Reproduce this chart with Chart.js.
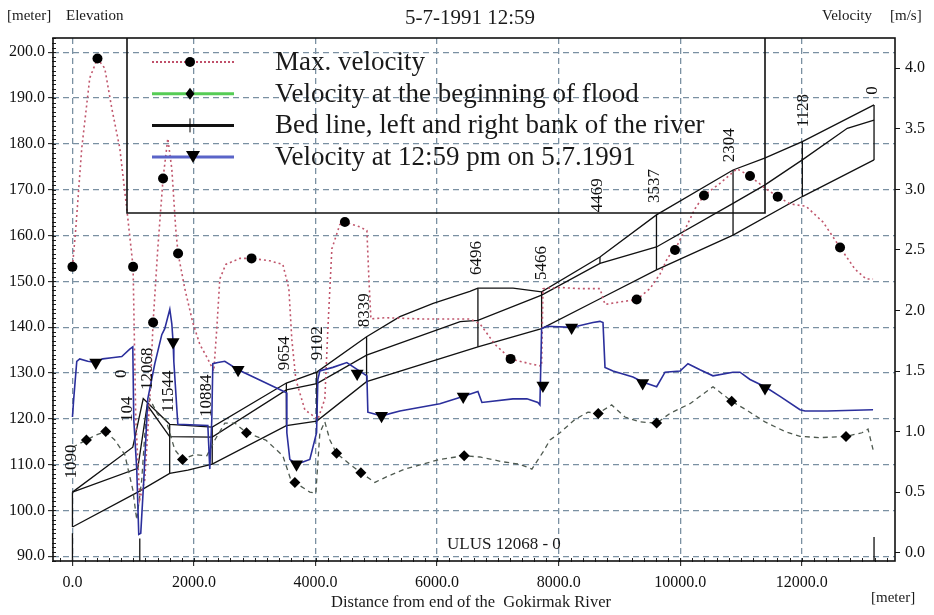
<!DOCTYPE html>
<html>
<head>
<meta charset="utf-8">
<script src="https://cdn.jsdelivr.net/npm/chart.js@4.4.1/dist/chart.umd.min.js"></script>
<style>
  html, body { margin: 0; padding: 0; background: #fff; }
</style>
</head>
<body>
<canvas id="chart" width="934" height="615"></canvas>
<script>
// axis ticks
const xTicks = [0, 2000, 4000, 6000, 8000, 10000, 12000];
const elevTicks = [90, 100, 110, 120, 130, 140, 150, 160, 170, 180, 190, 200];
const velTicks = [0, 0.5, 1.0, 1.5, 2.0, 2.5, 3.0, 3.5, 4.0];

// bed line and the two banks [m, elevation]
const bankTopDist = [0, 993, 1165, 1600, 2300, 3520, 4020, 4840, 5388, 5936, 6540, 6672, 7250, 7720, 8680, 9610, 10870, 11390, 12010, 13190];
const bankTopElev = [104.0, 113.8, 124.4, 118.8, 118.2, 127.8, 130.2, 137.9, 142.3, 145.2, 147.8, 148.5, 148.5, 147.7, 155.3, 164.5, 174.3, 176.9, 180.5, 188.5];
const bankMidDist = [0, 1075, 1230, 1600, 2300, 3520, 4020, 4840, 6380, 6672, 7720, 8680, 9610, 10870, 11390, 12010, 12750, 13190];
const bankMidElev = [104.0, 109.2, 123.0, 116.1, 116.0, 126.3, 127.7, 133.9, 141.2, 141.5, 147.0, 153.9, 157.5, 167.0, 171.0, 176.5, 183.4, 185.2];
const bedDist = [0, 1075, 1600, 1900, 2300, 3520, 4020, 4840, 6672, 7720, 8680, 9610, 10870, 12010, 13190];
const bedElev = [96.4, 104.0, 108.1, 108.8, 110.1, 118.5, 119.5, 128.1, 135.7, 139.7, 146.2, 152.5, 160.1, 168.5, 176.5];

// cross sections
const sectionDist = [0, 1600, 2300, 3520, 4020, 4840, 6672, 7720, 8680, 9610, 10870, 12010, 13190];
const sectionLow = [96.4, 108.1, 110.1, 118.5, 119.5, 128.1, 135.7, 139.7, 153.9, 152.5, 160.1, 168.5, 176.5];
const sectionHigh = [104.0, 118.8, 118.2, 127.8, 130.2, 137.9, 148.5, 147.7, 155.3, 164.5, 174.3, 180.5, 188.5];
const sectionNames = ['1090', '0', '104', '12068', '11544', '10884', '9654', '9102', '8339', '6496', '5466', '4469', '3537', '2304', '1128', '0'];
const labelDist = [-20, 812, 910, 1231, 1585, 2202, 3495, 4030, 4812, 6655, 7720, 8647, 9585, 10820, 12022, 13165];
const labelElev = [107.0, 128.9, 119.3, 126.3, 121.4, 120.4, 130.6, 132.8, 140.0, 151.4, 150.3, 165.1, 167.1, 176.0, 183.6, 190.7];
const ulusDist = [0, 1108, 13190];
const ulusTop = [95.0, 93.9, 94.2];

// max. velocity [m/s]
const maxDist = [0, 54, 153, 285, 412, 532, 647, 779, 894, 998, 1042, 1108, 1190, 1273, 1327, 1404, 1491, 1569, 1635, 1700, 1738, 1849, 1980, 2096, 2227, 2326, 2375, 2425, 2523, 2754, 2947, 3248, 3462, 3561, 3610, 3676, 3824, 4038, 4153, 4203, 4269, 4400, 4483, 4730, 4845, 4878, 4911, 5141, 5717, 6540, 6705, 6952, 7210, 7528, 7720, 7742, 8022, 8351, 8680, 8763, 9010, 9284, 9503, 9668, 9799, 9915, 10079, 10244, 10392, 10655, 10935, 11149, 11396, 11605, 11807, 12071, 12351, 12631, 12878, 13059, 13174];
const maxVel = [2.36, 2.67, 3.34, 3.92, 4.08, 4.00, 3.67, 3.34, 2.84, 2.36, 1.10, 0.44, 0.60, 1.27, 1.90, 2.51, 3.09, 3.42, 3.17, 2.67, 2.47, 2.18, 1.90, 1.72, 1.60, 1.50, 1.85, 2.26, 2.38, 2.43, 2.43, 2.41, 2.38, 2.18, 1.76, 1.43, 1.18, 1.10, 1.27, 1.85, 2.51, 2.71, 2.73, 2.69, 2.66, 2.26, 1.93, 1.94, 1.93, 1.93, 1.89, 1.72, 1.60, 1.56, 1.54, 2.18, 2.19, 2.18, 2.18, 2.05, 2.07, 2.09, 2.18, 2.30, 2.44, 2.50, 2.67, 2.84, 2.95, 3.05, 3.17, 3.11, 3.01, 2.94, 2.88, 2.86, 2.73, 2.52, 2.34, 2.26, 2.26];
const maxMarkDist = [0, 412, 998, 1327, 1491, 1738, 2947, 4483, 7210, 9284, 9915, 10392, 11149, 11605, 12631];
const maxMarkVel = [2.36, 4.08, 2.36, 1.90, 3.09, 2.47, 2.43, 2.73, 1.60, 2.09, 2.50, 2.95, 3.11, 2.94, 2.52];

// velocity at the beginning of flood [m/s]
const startDist = [0, 230, 384, 548, 696, 861, 993, 1058, 1140, 1207, 1273, 1404, 1536, 1684, 1811, 2013, 2211, 2343, 2507, 2672, 2864, 3182, 3462, 3594, 3660, 3906, 4005, 4071, 4153, 4236, 4346, 4565, 4746, 4976, 5141, 5470, 6046, 6446, 6705, 7083, 7363, 7560, 7742, 7857, 8022, 8269, 8483, 8652, 8873, 9092, 9339, 9613, 9832, 10161, 10540, 10848, 11116, 11396, 11725, 11972, 12301, 12729, 12992, 13091, 13174];
const startVel = [0.87, 0.93, 0.97, 1.00, 0.93, 0.81, 0.52, 0.27, 0.60, 1.10, 1.27, 1.14, 1.10, 0.85, 0.77, 0.81, 0.80, 0.93, 1.07, 1.07, 0.99, 0.93, 0.80, 0.60, 0.58, 0.50, 0.49, 0.99, 1.08, 0.93, 0.82, 0.73, 0.66, 0.58, 0.62, 0.69, 0.77, 0.80, 0.79, 0.75, 0.73, 0.69, 0.83, 0.93, 0.99, 1.10, 1.16, 1.15, 1.22, 1.12, 1.08, 1.07, 1.15, 1.23, 1.37, 1.25, 1.17, 1.08, 1.00, 0.96, 0.95, 0.96, 0.99, 1.02, 0.85];
const startMarkDist = [230, 548, 1811, 2864, 3660, 4346, 4746, 6446, 8652, 9613, 10848, 12729];
const startMarkVel = [0.93, 1.00, 0.77, 0.99, 0.58, 0.82, 0.66, 0.80, 1.15, 1.07, 1.25, 0.96];

// velocity at 12:59 pm on 5.7.1991 [m/s]
const nowDist = [0, 21, 71, 120, 252, 384, 499, 647, 812, 943, 993, 1009, 1058, 1091, 1124, 1174, 1223, 1240, 1355, 1470, 1519, 1602, 1635, 1656, 1668, 1734, 2228, 2260, 2293, 2310, 2392, 2507, 2726, 3523, 3528, 3577, 3687, 3906, 4017, 4038, 4071, 4285, 4515, 4845, 4861, 5086, 5388, 6046, 6425, 6672, 6738, 7248, 7478, 7659, 7692, 7720, 7807, 8214, 8565, 8680, 8730, 8763, 8894, 9223, 9383, 9613, 9751, 9998, 10128, 10326, 10540, 10869, 10984, 11149, 11396, 11643, 11972, 12055, 12417, 13174];
const nowVel = [1.12, 1.27, 1.58, 1.60, 1.58, 1.57, 1.60, 1.61, 1.62, 1.68, 1.70, 1.10, 0.69, 0.15, 0.16, 0.60, 1.10, 1.27, 1.56, 1.80, 1.85, 2.01, 1.89, 1.74, 1.58, 1.06, 1.05, 0.69, 1.10, 1.56, 1.57, 1.58, 1.51, 1.32, 0.99, 0.77, 0.73, 0.77, 0.99, 1.43, 1.50, 1.53, 1.57, 1.46, 1.16, 1.13, 1.17, 1.23, 1.29, 1.33, 1.24, 1.27, 1.27, 1.24, 1.22, 1.85, 1.87, 1.86, 1.90, 1.91, 1.90, 1.53, 1.50, 1.45, 1.41, 1.37, 1.49, 1.50, 1.56, 1.51, 1.46, 1.49, 1.49, 1.43, 1.37, 1.29, 1.18, 1.17, 1.17, 1.18];
const nowMarkDist = [384, 1656, 2726, 3687, 4685, 5086, 6430, 7742, 8214, 9383, 11396];
const nowMarkVel = [1.57, 1.74, 1.51, 0.73, 1.48, 1.13, 1.29, 1.38, 1.86, 1.40, 1.36];

const SERIF = '"Liberation Serif", "DejaVu Serif", serif';
const pts = (xs, ys) => xs.map((x, i) => ({ x, y: ys[i] }));
const gaps = (xs, lo, hi) => xs.flatMap((x, i) => [{ x, y: lo[i] }, { x, y: hi[i] }, { x, y: null }]);

const legendRows = [
  { text: 'Max. velocity', color: '#c0506a', width: 2, dash: [2, 2], mark: 'circle' },
  { text: 'Velocity at the beginning of flood', color: '#55cc55', width: 3, dash: [], mark: 'diamond' },
  { text: 'Bed line, left and right bank of the river', color: '#111', width: 3, dash: [], mark: 'tick' },
  { text: 'Velocity at 12:59 pm on 5.7.1991', color: '#5a64c8', width: 3, dash: [], mark: 'triangle' },
];

function mark(ctx, type, x, y) {
  ctx.save();
  ctx.fillStyle = '#000';
  ctx.strokeStyle = '#000';
  ctx.setLineDash([]);
  ctx.beginPath();
  if (type === 'circle') { ctx.arc(x, y, 5, 0, Math.PI * 2); ctx.fill(); }
  if (type === 'diamond') { ctx.moveTo(x, y - 6); ctx.lineTo(x + 4.5, y); ctx.lineTo(x, y + 6); ctx.lineTo(x - 4.5, y); ctx.fill(); }
  if (type === 'triangle') { ctx.moveTo(x - 7, y - 6); ctx.lineTo(x + 7, y - 6); ctx.lineTo(x, y + 6); ctx.fill(); }
  if (type === 'tick') { ctx.lineWidth = 1; ctx.moveTo(x, y - 7); ctx.lineTo(x, y + 7); ctx.stroke(); }
  ctx.restore();
}

const decor = {
  id: 'decor',
  afterDraw(chart) {
    const { ctx, chartArea: a, scales } = chart;
    const xs = scales.x, ys = scales.y;
    ctx.save();

    // minor ticks
    ctx.strokeStyle = '#222';
    ctx.lineWidth = 1;
    ctx.beginPath();
    for (let v = -200; v <= 13400; v += 200) {
      const px = Math.round(xs.getPixelForValue(v)) + 0.5;
      ctx.moveTo(px, a.bottom + 1); ctx.lineTo(px, a.bottom - 3);
    }
    for (let v = 89; v <= 203; v += 1) {
      const py = Math.round(ys.getPixelForValue(v)) + 0.5;
      ctx.moveTo(a.left - 1, py); ctx.lineTo(a.left + 3, py);
    }
    ctx.stroke();

    // frame
    ctx.lineWidth = 1.6;
    ctx.strokeStyle = '#111';
    ctx.strokeRect(a.left, a.top, a.right - a.left, a.bottom - a.top);

    // section names
    ctx.fillStyle = '#111';
    ctx.font = '17px ' + SERIF;
    ctx.textAlign = 'left';
    ctx.textBaseline = 'middle';
    sectionNames.forEach((name, i) => {
      ctx.save();
      ctx.translate(xs.getPixelForValue(labelDist[i]), ys.getPixelForValue(labelElev[i]));
      ctx.rotate(-Math.PI / 2);
      ctx.fillText(name, 0, 0);
      ctx.restore();
    });

    // legend frame and rows
    ctx.lineWidth = 1.6;
    ctx.strokeStyle = '#111';
    ctx.beginPath();
    ctx.moveTo(127, a.top); ctx.lineTo(127, 213); ctx.lineTo(765, 213); ctx.lineTo(765, a.top);
    ctx.stroke();
    ctx.font = '27px ' + SERIF;
    ctx.fillStyle = '#1a1a1a';
    legendRows.forEach((r, i) => {
      const y = 62 + i * 31.7;
      ctx.save();
      ctx.strokeStyle = r.color;
      ctx.lineWidth = r.width;
      ctx.setLineDash(r.dash);
      ctx.beginPath(); ctx.moveTo(152, y); ctx.lineTo(234, y); ctx.stroke();
      ctx.restore();
      mark(ctx, r.mark, r.mark === 'triangle' ? 193 : 190, y);
      ctx.fillText(r.text, 275, y + 1);
    });

    // texts around the plot
    ctx.font = '15px ' + SERIF;
    ctx.fillText('[meter]', 7, 16);
    ctx.fillText('Elevation', 66, 16);
    ctx.fillText('Velocity', 822, 16);
    ctx.fillText('[m/s]', 890, 16);
    ctx.fillText('[meter]', 871, 598);
    ctx.font = '17px ' + SERIF;
    ctx.fillText('ULUS 12068 - 0', 447, 545);
    ctx.textAlign = 'center';
    ctx.font = '16.5px ' + SERIF;
    ctx.fillText('Distance from end of the  Gokirmak River', 471, 603);
    ctx.font = '21px ' + SERIF;
    ctx.fillText('5-7-1991 12:59', 470, 18);
    ctx.restore();
  }
};

const gridOpts = { color: '#7a90a2', lineWidth: 1.3, tickColor: '#111', tickLength: 5, tickWidth: 1 };
const tickFont = { family: SERIF, size: 16 };

new Chart(document.getElementById('chart'), {
  type: 'line',
  data: {
    datasets: [
      { data: pts(maxMarkDist, maxMarkVel), yAxisID: 'yv', showLine: false, pointStyle: 'circle', pointRadius: 5, pointBackgroundColor: '#000', pointBorderWidth: 0 },
      { data: pts(startMarkDist, startMarkVel), yAxisID: 'yv', showLine: false, pointStyle: 'rectRot', pointRadius: 5.5, pointBackgroundColor: '#000', pointBorderWidth: 0 },
      { data: pts(nowMarkDist, nowMarkVel), yAxisID: 'yv', showLine: false, pointStyle: 'triangle', rotation: 180, pointRadius: 7.5, pointBackgroundColor: '#000', pointBorderWidth: 0 },
      { data: pts(nowDist, nowVel), yAxisID: 'yv', borderColor: '#2b2f9c', borderWidth: 1.6, pointRadius: 0 },
      { data: pts(maxDist, maxVel), yAxisID: 'yv', borderColor: '#c0566c', borderWidth: 1.6, borderDash: [2, 3], pointRadius: 0 },
      { data: pts(startDist, startVel), yAxisID: 'yv', borderColor: '#4f5a50', borderWidth: 1.3, borderDash: [5, 4], pointRadius: 0 },
      { data: pts(bankTopDist, bankTopElev), yAxisID: 'y', borderColor: '#111', borderWidth: 1.3, pointRadius: 0 },
      { data: pts(bankMidDist, bankMidElev), yAxisID: 'y', borderColor: '#111', borderWidth: 1.3, pointRadius: 0 },
      { data: pts(bedDist, bedElev), yAxisID: 'y', borderColor: '#111', borderWidth: 1.3, pointRadius: 0 },
      { data: gaps(sectionDist, sectionLow, sectionHigh), yAxisID: 'y', borderColor: '#111', borderWidth: 1.3, pointRadius: 0 },
      { data: gaps(ulusDist, ulusDist.map(() => 88.9), ulusTop), yAxisID: 'y', borderColor: '#111', borderWidth: 1.3, pointRadius: 0 },
    ],
  },
  options: {
    responsive: false,
    animation: false,
    events: [],
    layout: { padding: { top: 38, left: 0, right: 0, bottom: 0 } },
    plugins: { legend: { display: false }, tooltip: { enabled: false } },
    elements: { line: { tension: 0 } },
    scales: {
      x: {
        type: 'linear', position: 'bottom', min: -320, max: 13535,
        afterBuildTicks: (s) => { s.ticks = xTicks.map((v) => ({ value: v })); },
        afterFit: (s) => { s.height = 54; },
        grid: gridOpts,
        border: { display: false, dash: [6, 4] },
        ticks: { color: '#111', font: tickFont, padding: 7, maxRotation: 0, autoSkip: false, callback: (v) => Number(v).toFixed(1) },
      },
      y: {
        type: 'linear', position: 'left', min: 88.97, max: 203.1,
        afterBuildTicks: (s) => { s.ticks = elevTicks.map((v) => ({ value: v })); },
        afterFit: (s) => { s.width = 53; },
        grid: gridOpts,
        border: { display: false, dash: [6, 4] },
        ticks: { color: '#111', font: tickFont, padding: 3, autoSkip: false, callback: (v) => Number(v).toFixed(1) },
      },
      yv: {
        type: 'linear', position: 'right', min: -0.069, max: 4.25,
        afterBuildTicks: (s) => { s.ticks = velTicks.map((v) => ({ value: v })); },
        afterFit: (s) => { s.width = 39; },
        grid: { drawOnChartArea: false, tickColor: '#111', tickLength: 5, tickWidth: 1 },
        border: { display: false },
        ticks: { color: '#111', font: tickFont, padding: 5, autoSkip: false, callback: (v) => Number(v).toFixed(1) },
      },
    },
  },
  plugins: [decor],
});
</script>
</body>
</html>
